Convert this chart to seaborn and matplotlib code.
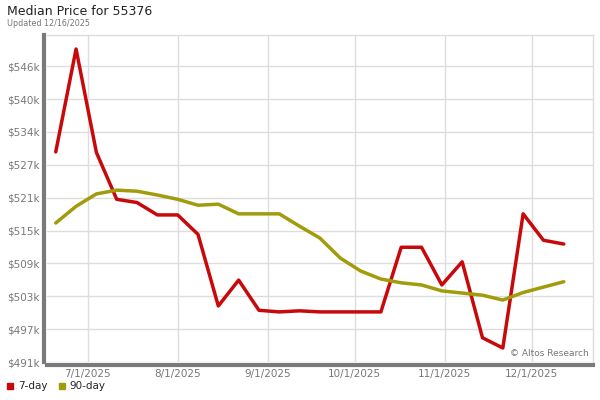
import matplotlib
matplotlib.use("Agg")
import matplotlib.pyplot as plt
import matplotlib.dates as mdates
from matplotlib.ticker import FuncFormatter
from matplotlib.lines import Line2D
import pandas as pd
import seaborn as sns

dates = ["2025-06-20", "2025-06-27", "2025-07-04", "2025-07-11", "2025-07-18",
         "2025-07-25", "2025-08-01", "2025-08-08", "2025-08-15", "2025-08-22",
         "2025-08-29", "2025-09-05", "2025-09-12", "2025-09-19", "2025-09-26",
         "2025-10-03", "2025-10-10", "2025-10-17", "2025-10-24", "2025-10-31",
         "2025-11-07", "2025-11-14", "2025-11-21", "2025-11-28", "2025-12-05",
         "2025-12-12"]

# median price, thousands of dollars
price_7day = [529.8, 548.9, 529.7, 521.0, 520.4, 518.1, 518.1, 514.5, 501.2, 506.0,
              500.4, 500.1, 500.3, 500.1, 500.1, 500.1, 500.1, 512.1, 512.1, 505.1,
              509.4, 495.3, 493.4, 518.3, 513.4, 512.7]
price_90day = [516.6, 519.7, 522.0, 522.7, 522.5, 521.8, 521.0, 519.9, 520.1, 518.3,
               518.3, 518.3, 516.0, 513.8, 510.1, 507.7, 506.2, 505.5, 505.1, 504.0,
               503.6, 503.2, 502.3, 503.7, 504.7, 505.7]

series_names = ["7-day", "90-day"]
series_colors = ["#c8090b", "#a09c0c"]

df = pd.DataFrame({
    "date": pd.to_datetime(dates * 2),
    "price": price_7day + price_90day,
    "series": [series_names[0]] * len(dates) + [series_names[1]] * len(dates),
})

sns.set_style("white")
plt.rcParams["font.family"] = ["DejaVu Sans"]

fig = plt.figure(figsize=(6, 4), dpi=100)
ax = fig.add_axes([0.078, 0.095, 0.91, 0.8175])

sns.lineplot(data=df, x="date", y="price", hue="series",
             palette=dict(zip(series_names, series_colors)),
             linewidth=2.5, legend=False, ax=ax)

ax.set_xlim(pd.Timestamp("2025-06-16 22:00"), pd.Timestamp("2025-12-22"))
ax.set_ylim(490.8, 551.5)
ax.set_yticks([490.8 + 6.1 * i for i in range(10)])
ax.yaxis.set_major_formatter(FuncFormatter(lambda v, p: f"${v:.0f}k"))
ax.xaxis.set_major_locator(mdates.MonthLocator())
ax.xaxis.set_major_formatter(FuncFormatter(
    lambda v, p: "{d.month}/{d.day}/{d.year}".format(d=mdates.num2date(v))))

ax.grid(True, color="#dddddd", linewidth=1)
ax.set_axisbelow(True)
ax.set_xlabel("")
ax.set_ylabel("")
ax.tick_params(axis="both", length=0, labelsize=7.5, labelcolor="#777777")
ax.tick_params(axis="x", pad=3)
ax.tick_params(axis="y", pad=3)

for side in ["top", "right"]:
    ax.spines[side].set_color("#dddddd")
    ax.spines[side].set_linewidth(1)
for side in ["left", "bottom"]:
    ax.spines[side].set_color("#7a7a7a")
    ax.spines[side].set_linewidth(3)
    ax.spines[side].set_position(("outward", 2))

ax.text(0.992, 0.012, "© Altos Research", transform=ax.transAxes,
        ha="right", va="bottom", fontsize=6.5, color="#777777")

fig.text(0.012, 0.962, "Median Price for 55376", fontsize=9, color="#222222")
fig.text(0.012, 0.935, "Updated 12/16/2025", fontsize=5.8, color="#777777")

handles = [Line2D([], [], marker="s", linestyle="", color=c, markersize=5)
           for c in series_colors]
fig.legend(handles, series_names, loc="lower left", bbox_to_anchor=(-0.007, -0.002),
           ncol=2, frameon=False, fontsize=7.5, handletextpad=0.2,
           columnspacing=0.9, handlelength=1.0, borderpad=0.4)

fig.savefig("out.png", dpi=100)
